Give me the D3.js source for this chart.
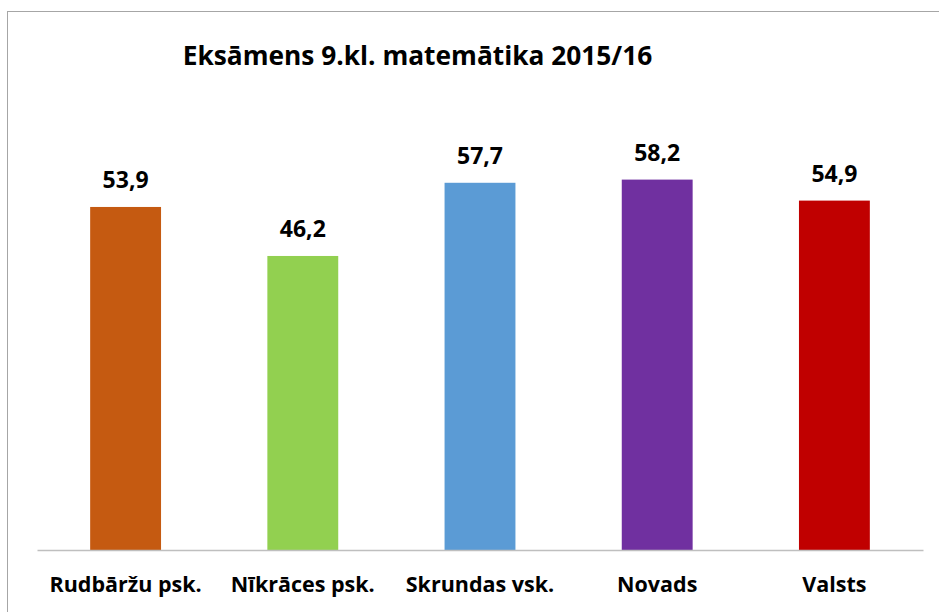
<!DOCTYPE html>
<html>
<head>
<meta charset="utf-8">
<script src="https://cdn.jsdelivr.net/npm/d3@7"></script>
<style>
  html, body { margin: 0; padding: 0; background: #fff; }
  svg { display: block; }
  text { font-family: "Open Sans", "Noto Sans", sans-serif; font-weight: bold; fill: #000; }
</style>
</head>
<body>
<svg id="chart" width="939" height="612"></svg>
<script>
const categories = ["Rudbāržu psk.", "Nīkrāces psk.", "Skrundas vsk.", "Novads", "Valsts"];
const values = [53.9, 46.2, 57.7, 58.2, 54.9];
const colors = ["#C55A11", "#92D050", "#5B9BD5", "#7030A0", "#C00000"];
const titleText = "Eksāmens 9.kl. matemātika 2015/16";
const yDomain = [0, 70];

const svg = d3.select("#chart");
const W = 939, H = 612;

// chart border (extends beyond right/bottom)
svg.append("rect")
  .attr("x", 7.5).attr("y", 11.5)
  .attr("width", W).attr("height", H)
  .attr("fill", "#fff")
  .attr("stroke", "#A6A6A6").attr("stroke-width", 1);

const plot = { left: 37, right: 923, top: 104.5, bottom: 550 };

const x = d3.scaleBand().domain(categories).range([plot.left, plot.right]).padding(0);
const y = d3.scaleLinear().domain(yDomain).range([plot.bottom, plot.top]);

const barW = x.bandwidth() * 0.4;

svg.append("g").selectAll("rect")
  .data(categories)
  .join("rect")
  .attr("x", d => x(d) + (x.bandwidth() - barW) / 2)
  .attr("width", barW)
  .attr("y", (d, i) => y(values[i]))
  .attr("height", (d, i) => y(0) - y(values[i]))
  .attr("fill", (d, i) => colors[i]);

// baseline axis
const xAxis = d3.axisBottom(x).tickSize(0).tickPadding(0);
const ax = svg.append("g").attr("transform", `translate(0,${plot.bottom})`).call(xAxis);
ax.select(".domain").attr("stroke", "#BFBFBF").attr("stroke-width", 1.5);
ax.selectAll(".tick text")
  .attr("y", 0).attr("dy", null)
  .attr("transform", "translate(0,42)")
  .style("font-family", '"Open Sans", sans-serif')
  .style("font-weight", "bold")
  .style("font-size", "21.5px")
  .attr("fill", "#000");

// value labels
svg.append("g").selectAll("text")
  .data(categories)
  .join("text")
  .attr("x", d => x(d) + x.bandwidth() / 2)
  .attr("y", (d, i) => y(values[i]) - 19)
  .attr("text-anchor", "middle")
  .style("font-size", "23px")
  .text((d, i) => String(values[i]).replace(".", ","));

// title
svg.append("text")
  .attr("x", 417.5).attr("y", 65)
  .attr("text-anchor", "middle")
  .style("font-size", "26.3px")
  .text(titleText);
</script>
</body>
</html>
